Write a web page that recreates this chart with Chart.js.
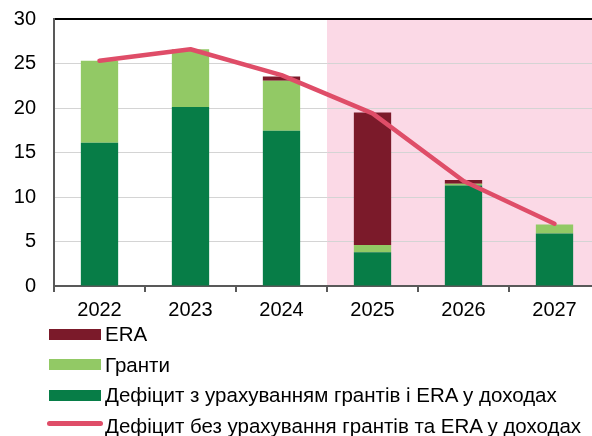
<!DOCTYPE html>
<html>
<head>
<meta charset="utf-8">
<script src="https://cdn.jsdelivr.net/npm/chart.js@4.4.1/dist/chart.umd.min.js"></script>
<style>
    html, body { margin: 0; padding: 0; background: #fff; overflow: hidden; }
    #wrap { position: relative; width: 592px; height: 436px; overflow: hidden; }
    #chart { position: absolute; left: 0; top: 0; }
    #legend { position: absolute; left: 46px; top: 319px; font-family: "Liberation Sans", Arial, sans-serif; font-size: 20.5px; color: #000; }
    .row { height: 30.5px; display: flex; align-items: center; white-space: nowrap; }
    .swatch { width: 52px; height: 11px; margin-left: 3px; margin-right: 4px; }
    .swatch.line { width: 56px; height: 5px; border-radius: 3px; margin-left: 1px; margin-right: 2px; position: relative; top: -2px; }
</style>
</head>
<body>
<div id="wrap">
    <canvas id="chart" width="600" height="322"></canvas>
    <div id="legend"></div>
</div>
<script>
const years = ["2022", "2023", "2024", "2025", "2026", "2027"];
const deficitWithGrants = [16.1, 20.1, 17.45, 3.8, 11.3, 5.9];
const grants = [9.2, 6.5, 5.6, 0.8, 0.2, 1.0];
const era = [0, 0, 0.5, 14.9, 0.4, 0];
const deficitWithout = [25.3, 26.6, 23.7, 19.4, 11.8, 7.0];
const yTicks = [0, 5, 10, 15, 20, 25, 30];
const forecastFrom = "2025";

const font = { family: "'Liberation Sans', Arial, sans-serif", size: 20 };
const axisColor = "#595959";

// pink band behind the forecast years
const forecastBand = {
    id: "forecastBand",
    beforeDraw(chart) {
        const { ctx, chartArea, scales } = chart;
        const i = years.indexOf(forecastFrom);
        const x0 = scales.x.getPixelForValue(i - 0.5);
        ctx.save();
        ctx.fillStyle = "#fbd9e6";
        ctx.fillRect(x0, chartArea.top, chartArea.right - x0, chartArea.bottom - chartArea.top);
        ctx.restore();
    }
};

const datasets = [
    { label: "Дефіцит з урахуванням грантів і ERA у доходах", data: deficitWithGrants, backgroundColor: "#077d47", legendOrder: 2 },
    { label: "Гранти", data: grants, backgroundColor: "#92c965", legendOrder: 1 },
    { label: "ERA", data: era, backgroundColor: "#7b1a2a", legendOrder: 0 }
].map((d) => ({ ...d, type: "bar", stack: "s", order: 1, barPercentage: 0.41, categoryPercentage: 1 }));

datasets.push({
    type: "line",
    label: "Дефіцит без урахування грантів та ERA у доходах",
    data: deficitWithout,
    borderColor: "#df4d68",
    borderWidth: 4.5,
    borderCapStyle: "round",
    borderJoinStyle: "round",
    pointRadius: 0,
    tension: 0,
    order: 0,
    legendOrder: 3
});

new Chart(document.getElementById("chart"), {
    data: { labels: years, datasets },
    options: {
        responsive: false,
        animation: false,
        layout: { padding: { top: 19 } },
        plugins: { legend: { display: false }, tooltip: { enabled: false } },
        scales: {
            x: {
                stacked: true,
                afterFit: (s) => { s.height = 36; },
                grid: { drawOnChartArea: false, drawTicks: true, tickLength: 6, color: axisColor, lineWidth: 2 },
                border: { color: axisColor, width: 2 },
                ticks: { font, color: "#000", padding: 6 }
            },
            y: {
                stacked: true,
                min: 0,
                max: 30,
                afterFit: (s) => {
                    s.width = 54;
                    s.paddingTop = 0;
                    s.paddingBottom = 0;
                },
                afterBuildTicks: (s) => { s.ticks = yTicks.map((v) => ({ value: v })); },
                grid: {
                    drawTicks: false,
                    color: (c) => (c.tick && c.tick.value === 30 ? "#000" : "#d4d4d4"),
                    lineWidth: (c) => (c.tick && c.tick.value === 30 ? 2 : 1)
                },
                border: { color: axisColor, width: 2 },
                ticks: { font, color: "#000", padding: 18 }
            }
        }
    },
    plugins: [forecastBand]
});

// legend, one entry per row
const legend = document.getElementById("legend");
legend.innerHTML = datasets
    .slice()
    .sort((a, b) => a.legendOrder - b.legendOrder)
    .map((d) => d.type === "line"
        ? `<div class="row"><span class="swatch line" style="background:${d.borderColor}"></span>${d.label}</div>`
        : `<div class="row"><span class="swatch" style="background:${d.backgroundColor}"></span>${d.label}</div>`)
    .join("");
</script>
</body>
</html>
